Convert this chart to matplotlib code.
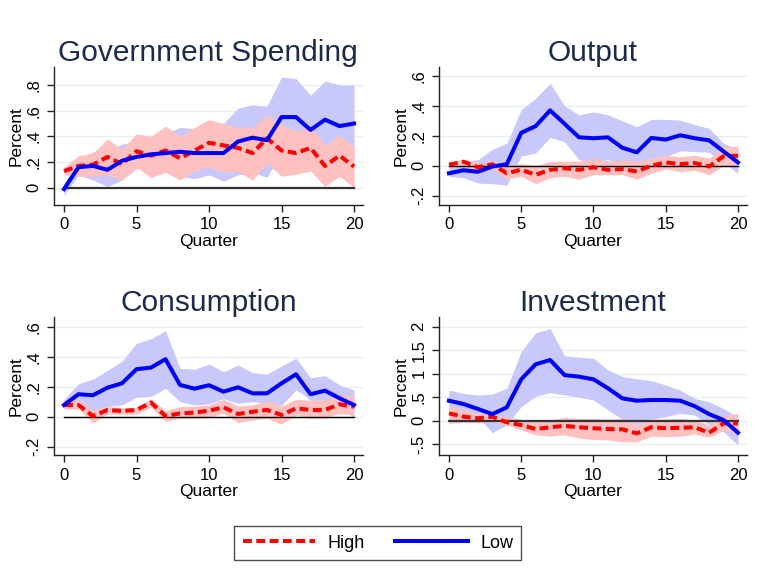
import numpy as np
import matplotlib.pyplot as plt
from matplotlib.lines import Line2D

plt.rcParams['font.family'] = ['Liberation Sans', 'DejaVu Sans']

quarters = list(range(21))

# Government spending
gs_low = [-0.01, 0.16, 0.17, 0.14, 0.21, 0.24, 0.26, 0.27, 0.28, 0.27, 0.27,
          0.27, 0.36, 0.39, 0.37, 0.55, 0.55, 0.45, 0.53, 0.48, 0.50]
gs_low_lo = [-0.06, 0.10, 0.06, 0.01, 0.06, 0.15, 0.17, 0.18, 0.09, 0.07, 0.10,
             0.05, 0.10, 0.12, 0.08, 0.28, 0.26, 0.20, 0.28, 0.24, 0.20]
gs_low_hi = [0.03, 0.22, 0.28, 0.28, 0.34, 0.36, 0.40, 0.42, 0.47, 0.46, 0.48,
             0.50, 0.62, 0.645, 0.635, 0.86, 0.85, 0.72, 0.83, 0.80, 0.80]
gs_high = [0.13, 0.17, 0.18, 0.24, 0.185, 0.285, 0.25, 0.29, 0.23, 0.29, 0.35,
           0.33, 0.31, 0.27, 0.385, 0.29, 0.27, 0.31, 0.17, 0.25, 0.165]
gs_high_lo = [0.10, 0.09, 0.09, 0.10, 0.06, 0.16, 0.08, 0.12, 0.06, 0.13, 0.165,
              0.125, 0.125, 0.06, 0.19, 0.09, 0.105, 0.13, 0.01, 0.09, 0.0]
gs_high_hi = [0.16, 0.25, 0.27, 0.38, 0.30, 0.42, 0.40, 0.48, 0.40, 0.47, 0.53,
              0.50, 0.47, 0.47, 0.565, 0.49, 0.44, 0.48, 0.33, 0.41, 0.32]

# Output
y_low = [-0.05, -0.03, -0.04, -0.005, 0.01, 0.22, 0.265, 0.37, 0.28, 0.19, 0.184,
         0.19, 0.12, 0.09, 0.186, 0.175, 0.204, 0.184, 0.17, 0.096, 0.022]
y_low_lo = [-0.07, -0.08, -0.115, -0.12, -0.13, 0.065, 0.085, 0.19, 0.16, 0.04, 0.03,
            0.04, 0.02, 0.0, 0.05, 0.06, 0.10, 0.095, 0.09, 0.02, -0.05]
y_low_hi = [-0.01, 0.03, 0.04, 0.11, 0.15, 0.375, 0.45, 0.55, 0.40, 0.34, 0.36,
            0.34, 0.30, 0.26, 0.31, 0.31, 0.305, 0.275, 0.25, 0.15, 0.11]
y_high = [0.007, 0.027, -0.01, 0.01, -0.05, -0.027, -0.06, -0.027, -0.016, -0.027, -0.01,
          -0.027, -0.022, -0.038, 0.0, 0.022, 0.011, 0.018, -0.005, 0.063, 0.067]
y_high_lo = [-0.01, 0.0, -0.03, -0.02, -0.09, -0.07, -0.12, -0.08, -0.07, -0.09, -0.06,
             -0.06, -0.06, -0.09, -0.05, -0.02, -0.04, -0.03, -0.06, 0.0, 0.0]
y_high_hi = [0.02, 0.045, 0.02, 0.03, 0.0, 0.015, 0.0, 0.03, 0.03, 0.03, 0.05,
             0.03, 0.04, 0.03, 0.05, 0.07, 0.06, 0.07, 0.05, 0.13, 0.13]

# Consumption
c_low = [0.078, 0.15, 0.143, 0.194, 0.223, 0.317, 0.328, 0.384, 0.212, 0.187, 0.21,
         0.167, 0.196, 0.156, 0.156, 0.223, 0.283, 0.15, 0.174, 0.123, 0.078]
c_low_lo = [0.067, 0.09, 0.045, 0.067, 0.078, 0.13, 0.134, 0.19, 0.10, 0.078, 0.085,
            0.12, 0.09, 0.10, 0.09, 0.075, 0.18, 0.11, 0.11, 0.067, -0.01]
c_low_hi = [0.116, 0.22, 0.25, 0.31, 0.37, 0.49, 0.52, 0.575, 0.323, 0.317, 0.352,
            0.30, 0.345, 0.294, 0.285, 0.339, 0.39, 0.26, 0.274, 0.212, 0.178]
c_high = [0.078, 0.078, 0.004, 0.045, 0.038, 0.045, 0.094, 0.004, 0.022, 0.027, 0.04,
          0.062, 0.018, 0.033, 0.045, 0.011, 0.056, 0.045, 0.045, 0.083, 0.067]
c_high_lo = [0.05, 0.05, -0.04, 0.018, 0.016, 0.018, 0.062, -0.03, -0.01, -0.01, -0.005,
             0.022, -0.04, -0.022, -0.011, -0.05, 0.011, -0.011, -0.011, 0.022, 0.011]
c_high_hi = [0.116, 0.11, 0.045, 0.067, 0.062, 0.062, 0.12, 0.04, 0.067, 0.07, 0.078,
             0.116, 0.071, 0.078, 0.107, 0.071, 0.116, 0.11, 0.116, 0.138, 0.138]

# Investment
i_low = [0.425, 0.355, 0.25, 0.14, 0.284, 0.88, 1.2, 1.29, 0.97, 0.936, 0.88,
         0.69, 0.475, 0.425, 0.44, 0.44, 0.425, 0.31, 0.14, 0.014, -0.255]
i_low_lo = [0.23, 0.19, 0.085, -0.255, -0.09, 0.30, 0.52, 0.60, 0.546, 0.50, 0.44,
            0.23, 0.03, -0.09, 0.03, 0.085, 0.156, 0.12, -0.09, -0.234, -0.52]
i_low_hi = [0.65, 0.58, 0.546, 0.567, 0.69, 1.47, 1.87, 1.96, 1.38, 1.35, 1.33,
            1.08, 0.94, 0.89, 0.85, 0.76, 0.65, 0.475, 0.40, 0.26, 0.07]
i_high = [0.156, 0.085, 0.05, 0.085, -0.035, -0.092, -0.177, -0.14, -0.11, -0.14, -0.16,
          -0.177, -0.184, -0.27, -0.14, -0.16, -0.15, -0.14, -0.255, -0.057, -0.057]
i_high_lo = [-0.057, -0.04, -0.04, -0.02, -0.092, -0.2, -0.3, -0.33, -0.3, -0.37, -0.4,
             -0.41, -0.45, -0.45, -0.33, -0.34, -0.33, -0.28, -0.355, -0.2, -0.28]
i_high_hi = [0.33, 0.227, 0.156, 0.12, 0.085, 0.03, -0.02, 0.014, 0.07, 0.05, 0.05,
             0.03, 0.05, -0.092, 0.03, 0.03, 0.05, 0.014, -0.092, 0.1, 0.156]

panels = [
    ('Government Spending', gs_low, gs_low_lo, gs_low_hi, gs_high, gs_high_lo, gs_high_hi,
     [0, 0.2, 0.4, 0.6, 0.8], (-0.134, 0.94), '#333333', 1.6),
    ('Output', y_low, y_low_lo, y_low_hi, y_high, y_high_lo, y_high_hi,
     [-0.2, 0, 0.2, 0.4, 0.6], (-0.262, 0.66), 'black', 1.0),
    ('Consumption', c_low, c_low_lo, c_low_hi, c_high, c_high_lo, c_high_hi,
     [-0.2, 0, 0.2, 0.4, 0.6], (-0.256, 0.664), 'black', 1.0),
    ('Investment', i_low, i_low_lo, i_low_hi, i_high, i_high_lo, i_high_hi,
     [-0.5, 0, 0.5, 1, 1.5, 2], (-0.73, 2.2), '#333333', 1.6),
]

# axes boxes in figure fractions: left, bottom, width, height
boxes = [
    [0.0703, 0.6429, 0.4020, 0.2404],
    [0.5716, 0.6429, 0.4006, 0.2404],
    [0.0703, 0.2073, 0.4020, 0.2400],
    [0.5716, 0.2073, 0.4006, 0.2400],
]


def stata_label(v):
    s = ('%g' % v)
    if s.startswith('0.'):
        s = s[1:]
    elif s.startswith('-0.'):
        s = '-' + s[2:]
    return s


fig = plt.figure(figsize=(7.68, 5.74), dpi=100)

for box, (title, low, low_lo, low_hi, high, high_lo, high_hi,
          yticks, ylim, zcol, zlw) in zip(boxes, panels):
    ax = fig.add_axes(box)
    ax.fill_between(quarters, low_lo, low_hi, color='#c8c8fa', lw=0, zorder=1)
    ax.fill_between(quarters, high_lo, high_hi, color='#ffc0c0', lw=0, zorder=2)
    ax.plot([0, 20], [0, 0], color=zcol, lw=zlw, zorder=3)
    ax.plot(quarters, high, color='#ff0000', lw=2.9, ls=(0, (2.2, 1.1)), zorder=4)
    ax.plot(quarters, low, color='#0000ff', lw=2.9, zorder=5)

    ax.set_xlim(-0.69, 20.6)
    ax.set_ylim(*ylim)
    ax.set_xticks([0, 5, 10, 15, 20])
    ax.set_yticks(yticks)
    ax.set_yticklabels([stata_label(v) for v in yticks], rotation=90, va='center')
    ax.grid(axis='y', color='#e6eff1', lw=1.0, zorder=0)
    ax.set_axisbelow(True)
    for side in ['top', 'right']:
        ax.spines[side].set_visible(False)
    for side in ['left', 'bottom']:
        ax.spines[side].set_color('#222222')
        ax.spines[side].set_linewidth(1.0)
    ax.tick_params(direction='out', length=5, width=1, color='#222222',
                   labelsize=12, pad=4)
    ax.set_xlabel('Quarter', fontsize=12.5, labelpad=1)
    ax.set_ylabel('Percent', fontsize=12.5, labelpad=2)
    ax.set_title(title, fontsize=21.5, color='#1c2a4c', pad=4)

handles = [
    Line2D([], [], color='#ff0000', lw=2.9, ls=(0, (2.2, 1.1))),
    Line2D([], [], color='#0000ff', lw=2.9),
]
fig.legend(handles, ['High', 'Low'], loc='center', bbox_to_anchor=(0.492, 0.054),
           ncol=2, fontsize=13, frameon=True, fancybox=False, edgecolor='#222222',
           handlelength=4.0, columnspacing=1.7, handletextpad=0.7,
           borderpad=0.45)

fig.savefig('out.png', dpi=100)
